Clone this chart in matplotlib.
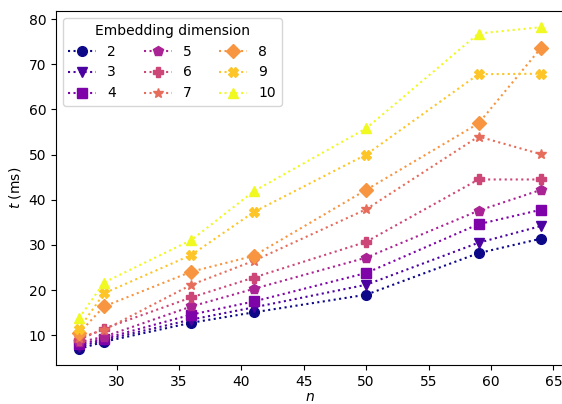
import numpy as np
import matplotlib
matplotlib.use('Agg')
import matplotlib.pyplot as plt

# problem sizes on the x axis
n = [27, 29, 36, 41, 50, 59, 64]
dims = [2, 3, 4, 5, 6, 7, 8, 9, 10]
markers = ['o', 'v', 's', 'p', 'P', '*', 'D', 'X', '^']

# timings in ms, one list per embedding dimension
t_2 = [7.0, 8.6, 12.8, 15.1, 19.0, 28.2, 31.4]
t_3 = [7.5, 9.0, 13.5, 16.2, 21.2, 30.5, 34.2]
t_4 = [8.0, 9.3, 14.6, 17.5, 23.8, 34.6, 37.8]
t_5 = [8.5, 9.7, 16.4, 20.3, 27.2, 37.6, 42.2]
t_6 = [9.0, 11.5, 18.4, 22.8, 30.7, 44.5, 44.5]
t_7 = [9.5, 11.2, 21.2, 26.5, 37.9, 54.0, 50.1]
t_8 = [10.5, 16.4, 24.1, 27.6, 42.2, 56.9, 73.6]
t_9 = [11.5, 19.3, 27.8, 37.3, 50.0, 67.8, 67.9]
t_10 = [13.8, 21.7, 31.1, 41.9, 55.8, 76.8, 78.2]
times = [t_2, t_3, t_4, t_5, t_6, t_7, t_8, t_9, t_10]

fig = plt.figure(figsize=(5.62, 4.04), dpi=100)
ax = fig.add_axes([0.0996, 0.0965, 0.904, 0.876])

colors = plt.cm.plasma(np.linspace(0, 1, len(dims)))
for d, t, m, c in zip(dims, times, markers, colors):
    ax.plot(n, t, linestyle=':', marker=m, color=c, markersize=7, label=str(d))

ax.set_xlabel('$n$', labelpad=1)
ax.set_ylabel('$t$ (ms)')
ax.legend(title='Embedding dimension', ncol=3, loc='upper left')

fig.savefig('out.png', dpi=100)
